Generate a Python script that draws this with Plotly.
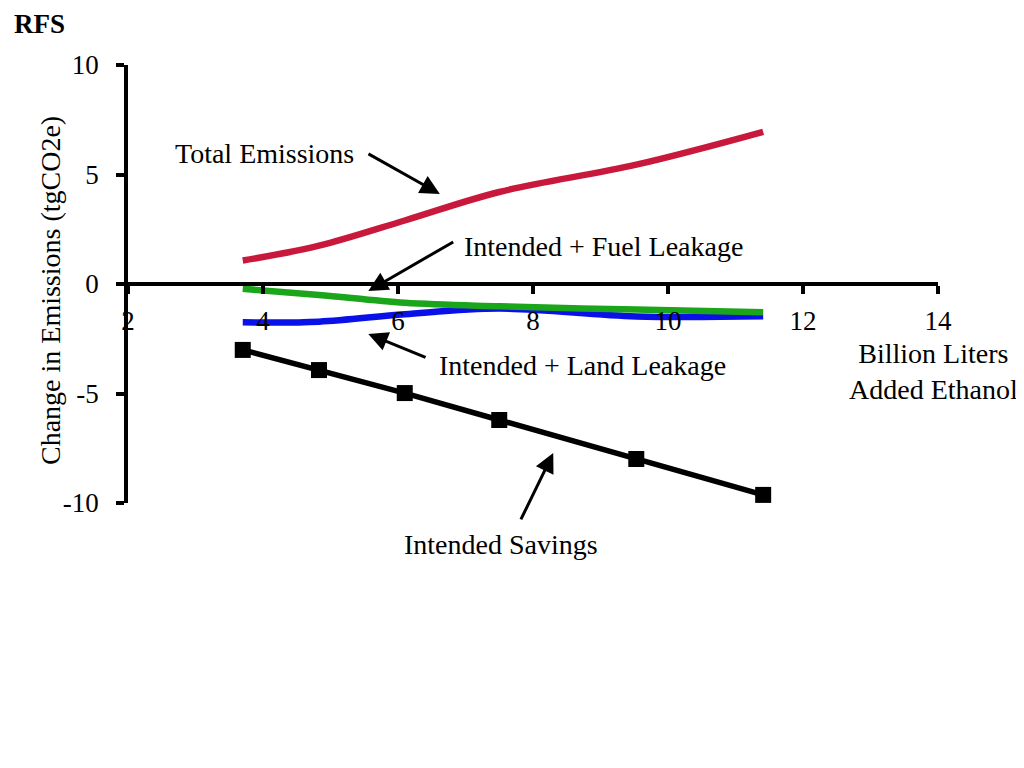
import plotly.graph_objects as go

# Data (billion liters added ethanol vs change in emissions, tgCO2e)
x_vals = [3.70, 4.83, 6.10, 7.50, 9.53, 11.41]
intended_savings = [-3.01, -3.93, -4.98, -6.21, -7.99, -9.63]
total_emissions = [1.07, 1.75, 2.90, 4.20, 5.45, 6.95]
fuel_leakage = [-0.22, -0.50, -0.86, -1.02, -1.17, -1.29]
land_leakage = [-1.75, -1.72, -1.38, -1.12, -1.48, -1.47]

x_ticks = [2, 4, 6, 8, 10, 12, 14]
y_ticks = [-10, -5, 0, 5, 10]

FONT = "Liberation Serif, Times New Roman, serif"
RED = "#C8193C"
GREEN = "#1BA51B"
BLUE = "#0A10E8"
TXT = 28
TICK = 27

fig = go.Figure()
fig.add_trace(go.Scatter(x=x_vals, y=total_emissions, mode="lines",
                         line=dict(color=RED, width=6.5, shape="spline"),
                         name="Total Emissions", cliponaxis=False))
fig.add_trace(go.Scatter(x=x_vals, y=land_leakage, mode="lines",
                         line=dict(color=BLUE, width=6.5, shape="spline"),
                         name="Intended + Land Leakage", cliponaxis=False))
fig.add_trace(go.Scatter(x=x_vals, y=fuel_leakage, mode="lines",
                         line=dict(color=GREEN, width=6.5, shape="spline"),
                         name="Intended + Fuel Leakage", cliponaxis=False))
fig.add_trace(go.Scatter(x=x_vals, y=intended_savings, mode="lines+markers",
                         line=dict(color="black", width=5.5),
                         marker=dict(symbol="square", size=16, color="black"),
                         name="Intended Savings", cliponaxis=False))

arrows = [
    # (head x, head y, tail x, tail y)
    (6.62, 4.11, 5.54, 5.98),
    (5.56, -0.32, 6.84, 1.96),
    (5.56, -2.28, 6.43, -3.38),
    (8.30, -7.72, 7.81, -10.82),
]
annotations = []
for hx, hy, tx, ty in arrows:
    annotations.append(dict(x=hx, y=hy, ax=tx, ay=ty, xref="x", yref="y",
                            axref="x", ayref="y", text="", showarrow=True,
                            arrowhead=2, arrowsize=1.3, arrowwidth=3,
                            arrowcolor="black"))

labels = [
    ("Total Emissions", 4.02, 5.98),
    ("Intended + Fuel Leakage", 9.05, 1.69),
    ("Intended + Land Leakage", 8.74, -3.74),
    ("Billion Liters<br>Added Ethanol", 13.94, -4.0),
]
for t, lx, ly in labels:
    annotations.append(dict(x=lx, y=ly, xref="x", yref="y", text=t,
                            showarrow=False, font=dict(size=TXT, color="black", family=FONT)))

# label below the plot area (outside data range) -> paper coords
annotations.append(dict(x=(501 - 128) / 810, y=(503 - 544) / 438, xref="paper", yref="paper",
                        xanchor="center", yanchor="middle",
                        text="Intended Savings", showarrow=False,
                        font=dict(size=TXT, color="black", family=FONT)))

# y-axis title
annotations.append(dict(x=(50 - 128) / 810, y=(503 - 291) / 438, xref="paper", yref="paper",
                        xanchor="center", yanchor="middle", textangle=-90,
                        text="Change in Emissions (tgCO2e)", showarrow=False,
                        font=dict(size=TXT, color="black", family=FONT)))

annotations.append(dict(x=(12 - 128) / 810, y=(503 - 24) / 438, xref="paper", yref="paper",
                        text="<b>RFS</b>", xanchor="left", yanchor="middle", showarrow=False,
                        font=dict(size=TICK, color="black", family=FONT)))

# page body has an 8px margin, so the figure is shifted by 8px
fig.update_layout(
    width=1016, height=760,
    margin=dict(l=120, r=86, t=57, b=265),
    paper_bgcolor="white", plot_bgcolor="white",
    showlegend=False,
    font=dict(family=FONT, size=TICK, color="black"),
    annotations=annotations,
    xaxis=dict(range=[2, 14], tickvals=x_ticks, ticktext=[str(v) for v in x_ticks],
               showgrid=False, zeroline=False, showline=True, linecolor="black", linewidth=3.5,
               ticks="outside", ticklen=8, tickwidth=3.5, tickcolor="black",
               anchor="free", position=0.5, ticklabelstandoff=4, automargin=False,
               tickfont=dict(size=TICK, family=FONT, color="black")),
    yaxis=dict(range=[-10, 10], tickvals=y_ticks, ticktext=[str(v) for v in y_ticks],
               showgrid=False, zeroline=False, showline=True, linecolor="black", linewidth=3.5,
               ticks="outside", ticklen=8, tickwidth=3.5, tickcolor="black",
               ticklabelstandoff=12, automargin=False,
               tickfont=dict(size=TICK, family=FONT, color="black")),
)

fig.write_html("out.html")
